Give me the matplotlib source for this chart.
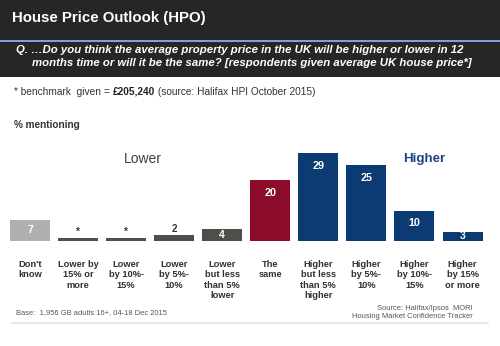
import matplotlib
matplotlib.use("Agg")
import matplotlib.pyplot as plt
from matplotlib.patches import Rectangle
from matplotlib.lines import Line2D

plt.rcParams["font.family"] = ["Liberation Sans", "DejaVu Sans"]

categories = ["Don't\nknow", "Lower by\n15% or\nmore", "Lower\nby 10%-\n15%", "Lower\nby 5%-\n10%",
              "Lower\nbut less\nthan 5%\nlower", "The\nsame", "Higher\nbut less\nthan 5%\nhigher",
              "Higher\nby 5%-\n10%", "Higher\nby 10%-\n15%", "Higher\nby 15%\nor more"]
values = [7, 0.9, 0.9, 2, 4, 20, 29, 25, 10, 3]
value_labels = ["7", "*", "*", "2", "4", "20", "29", "25", "10", "3"]
groups = ["dk", "lower", "lower", "lower", "lower", "same", "higher", "higher", "higher", "higher"]

group_colors = {"dk": "#b0b0b0", "lower": "#4f4f4a", "same": "#8a0c2a", "higher": "#0c3b73"}

W, H = 500, 346
fig = plt.figure(figsize=(W / 100, H / 100), dpi=100)
fig.patch.set_facecolor("white")


def fy(y):
    # pixel row (from top) to figure fraction
    return 1 - y / H


def fx(x):
    return x / W


# header bands
fig.add_artist(Rectangle((0, fy(40)), 1, 40 / H, transform=fig.transFigure,
                         facecolor="#262626", edgecolor="none"))
fig.add_artist(Rectangle((0, fy(77)), 1, 35.5 / H, transform=fig.transFigure,
                         facecolor="#262626", edgecolor="none"))
fig.add_artist(Line2D([0, 1], [fy(40.7), fy(40.7)], transform=fig.transFigure,
                      color="#5b93d0", lw=1.2))

fig.text(fx(12), fy(18), "House Price Outlook (HPO)", color="white", fontsize=10.8,
         fontweight="bold", va="center", ha="left")
fig.text(fx(16), fy(50), "Q. …Do you think the average property price in the UK will be higher or lower in 12",
         color="white", fontsize=8.2, fontweight="bold", style="italic", va="center", ha="left")
fig.text(fx(32), fy(63), "months time or will it be the same? [respondents given average UK house price*]",
         color="white", fontsize=8.2, fontweight="bold", style="italic", va="center", ha="left")

# benchmark note
t1 = fig.text(fx(14), fy(92), "* benchmark  given = ", color="#333333", fontsize=7.3,
              va="center", ha="left")
fig.canvas.draw()
r = fig.canvas.get_renderer()
bb = t1.get_window_extent(r)
t2 = fig.text(bb.x1 / W, fy(92), "£205,240", color="#222222", fontsize=7.3, fontweight="bold",
              va="center", ha="left")
bb2 = t2.get_window_extent(r)
fig.text(bb2.x1 / W, fy(92), " (source: Halifax HPI October 2015)", color="#333333",
         fontsize=7.3, va="center", ha="left")

fig.text(fx(14), fy(125), "% mentioning", color="#333333", fontsize=7.2, fontweight="bold",
         va="center", ha="left")

# bar axes: baseline at row 241, ~3.03 px per percentage point
base_row, top_row = 241, 140
ax = fig.add_axes([0, fy(base_row), 1, (base_row - top_row) / H])
step = 48.06
x0 = -30 / step
ax.set_xlim(x0, x0 + W / step)
ax.set_ylim(0, (base_row - top_row) / 3.03)
ax.set_facecolor("none")
for s in ax.spines.values():
    s.set_visible(False)

xs = list(range(len(categories)))
colors = [group_colors[g] for g in groups]
ax.bar(xs, values, width=40 / step, color=colors, edgecolor="none")

ax.set_xticks(xs)
ax.set_xticklabels(categories, fontsize=6.7, fontweight="bold", color="#303030",
                   linespacing=1.15, va="top")
ax.tick_params(axis="x", length=0, pad=14)
ax.set_yticks([])

for x, v, lab in zip(xs, values, value_labels):
    px_h = v * 3.03
    if v < 3:
        ax.annotate(lab, (x, v), xytext=(0, 4.5), textcoords="offset points",
                    ha="center", va="center", fontsize=7, fontweight="bold", color="#333333")
    elif px_h < 26:
        ax.annotate(lab, (x, v / 2), ha="center", va="center", fontsize=7.6,
                    fontweight="bold", color="white")
    else:
        ax.annotate(lab, (x, v), xytext=(0, -9), textcoords="offset points",
                    ha="center", va="center", fontsize=7.8, fontweight="bold", color="white")

# group headings
fig.text(fx(143), fy(159), "Lower", color="#404040", fontsize=10, va="center", ha="center")
fig.text(fx(424), fy(159), "Higher", color="#1c4482", fontsize=9.6, fontweight="bold",
         va="center", ha="center")

# footer
fig.text(fx(16), fy(313), "Base:  1,956 GB adults 16+, 04-18 Dec 2015", color="#555555",
         fontsize=5.4, va="center", ha="left")
fig.text(fx(473), fy(309), "Source: Halifax/Ipsos  MORI", color="#555555", fontsize=5.4,
         va="center", ha="right")
fig.text(fx(473), fy(317), "Housing Market Confidence Tracker", color="#555555", fontsize=5.4,
         va="center", ha="right")
fig.add_artist(Line2D([fx(12), fx(488)], [fy(322.5), fy(322.5)], transform=fig.transFigure,
                      color="#e2e2e2", lw=1.2))

fig.savefig("out.png", dpi=100)
